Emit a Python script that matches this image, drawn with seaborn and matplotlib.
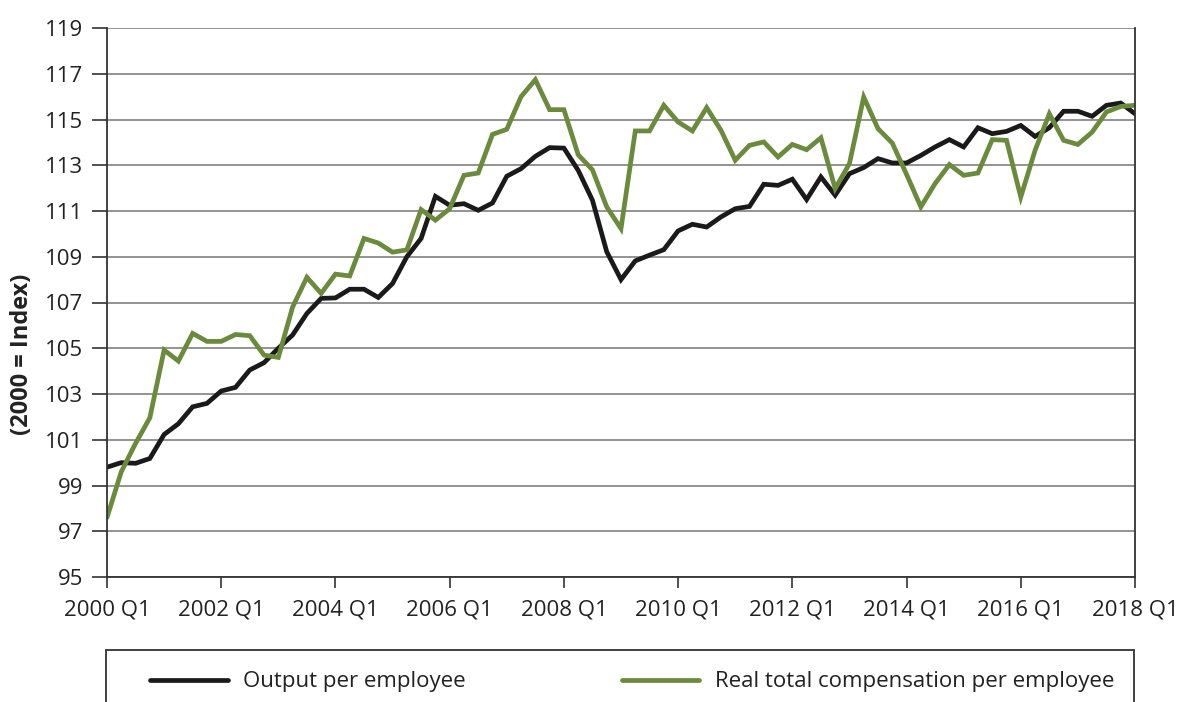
import numpy as np
import pandas as pd
import matplotlib
matplotlib.use("Agg")
import matplotlib.pyplot as plt
import seaborn as sns
from matplotlib.lines import Line2D
from matplotlib.patches import Rectangle

# ---- data ----
years = list(range(2000, 2019))
quarters = [f"{y} Q{q}" for y in years for q in range(1, 5)][:73]

output_per_employee = [
    99.8, 100.0, 99.97, 100.18,
    101.23, 101.7, 102.44, 102.59,
    103.13, 103.29, 104.05, 104.37,
    105.0, 105.58, 106.52, 107.18,
    107.2, 107.58, 107.58, 107.22,
    107.83, 109.0, 109.8, 111.64,
    111.25, 111.32, 111.03, 111.35,
    112.52, 112.85, 113.39, 113.77,
    113.75, 112.78, 111.47, 109.22,
    108.0, 108.82, 109.07, 109.31,
    110.13, 110.42, 110.3, 110.74,
    111.1, 111.2, 112.17, 112.12,
    112.39, 111.5, 112.49, 111.69,
    112.63, 112.9, 113.29, 113.1,
    113.1, 113.43, 113.8, 114.12,
    113.8, 114.64, 114.38, 114.48,
    114.74, 114.26, 114.64, 115.36,
    115.36, 115.14, 115.62, 115.72,
    115.25,
]

real_compensation = [
    97.6, 99.6, 100.84, 101.96,
    104.92, 104.44, 105.65, 105.3,
    105.3, 105.6, 105.55, 104.7,
    104.6, 106.8, 108.1, 107.4,
    108.24, 108.16, 109.8, 109.6,
    109.2, 109.3, 111.06, 110.6,
    111.1, 112.56, 112.66, 114.35,
    114.57, 116.0, 116.74, 115.43,
    115.43, 113.46, 112.8, 111.18,
    110.23, 114.5, 114.5, 115.62,
    114.89, 114.5, 115.52, 114.53,
    113.22, 113.87, 114.02, 113.36,
    113.91, 113.68, 114.2, 111.98,
    113.07, 115.98, 114.6, 113.97,
    112.6, 111.18, 112.2, 113.03,
    112.56, 112.66, 114.12, 114.09,
    111.61, 113.65, 115.25, 114.09,
    113.91, 114.45, 115.33, 115.57,
    115.62,
]

series_names = ["Output per employee", "Real total compensation per employee"]
series_colors = ["#1a1a1a", "#6a8a3c"]
y_ticks = list(range(95, 120, 2))
x_tick_labels = [f"{y} Q1" for y in range(2000, 2019, 2)]

# ---- build long-form frame ----
n = len(quarters)
df = pd.DataFrame({
    "idx": list(range(n)) * 2,
    "value": output_per_employee + real_compensation,
    "series": [series_names[0]] * n + [series_names[1]] * n,
})

sns.set_theme(style="white")
plt.rcParams["font.family"] = ["Open Sans", "DejaVu Sans"]

fig = plt.figure(figsize=(11.77, 7.02), dpi=100)
ax = fig.add_axes([107 / 1177, 1 - 577 / 702, (1135 - 107) / 1177, (577 - 28) / 702])

sns.lineplot(data=df, x="idx", y="value", hue="series", palette=series_colors,
             hue_order=series_names, linewidth=3.4, ax=ax, legend=False, sort=False)
for ln in ax.get_lines():
    ln.set_solid_joinstyle("miter")

ax.set_xlim(0, n - 1)
ax.set_ylim(95, 119)
ax.set_yticks(y_ticks)
ax.set_yticklabels([str(v) for v in y_ticks], fontsize=16, color="#222222")
ax.set_xticks(list(range(0, n, 8)))
ax.set_xticklabels(x_tick_labels, fontsize=16, color="#222222")

ax.yaxis.grid(True, color="#8a8a8a", linewidth=1.3)
ax.xaxis.grid(False)
ax.set_axisbelow(True)

for side in ["left", "right", "bottom"]:
    ax.spines[side].set_visible(True)
    ax.spines[side].set_color("#333333")
    ax.spines[side].set_linewidth(1.3)
ax.spines["top"].set_visible(False)

ax.tick_params(axis="y", direction="out", length=11, width=1.2, color="#333333", pad=6, left=True)
ax.tick_params(axis="x", direction="out", length=8, width=1.2, color="#333333", pad=8, bottom=True)

ax.set_xlabel("")
ax.set_ylabel("(2000 = Index)", fontsize=17, fontweight="bold", color="#222222")
ax.yaxis.set_label_coords(-0.071, 0.405)

# legend box (cut off at bottom like the reference)
rect = Rectangle((106 / 1177, -0.05), (1134 - 106) / 1177, 0.05 + (1 - 650 / 702),
                 transform=fig.transFigure, fill=False, edgecolor="#333333",
                 linewidth=1.3, clip_on=False)
fig.add_artist(rect)

handles = [Line2D([0], [0], color=c, linewidth=3.4, solid_capstyle="round") for c in series_colors]
fig.legend(handles, series_names, loc="center left",
           bbox_to_anchor=(150 / 1177, 1 - 682 / 702), ncol=2, frameon=False,
           fontsize=16, handlelength=3.5, handletextpad=0.7, columnspacing=7.0,
           borderpad=0, borderaxespad=0, labelcolor="#222222")

fig.savefig("out.png", dpi=100)
